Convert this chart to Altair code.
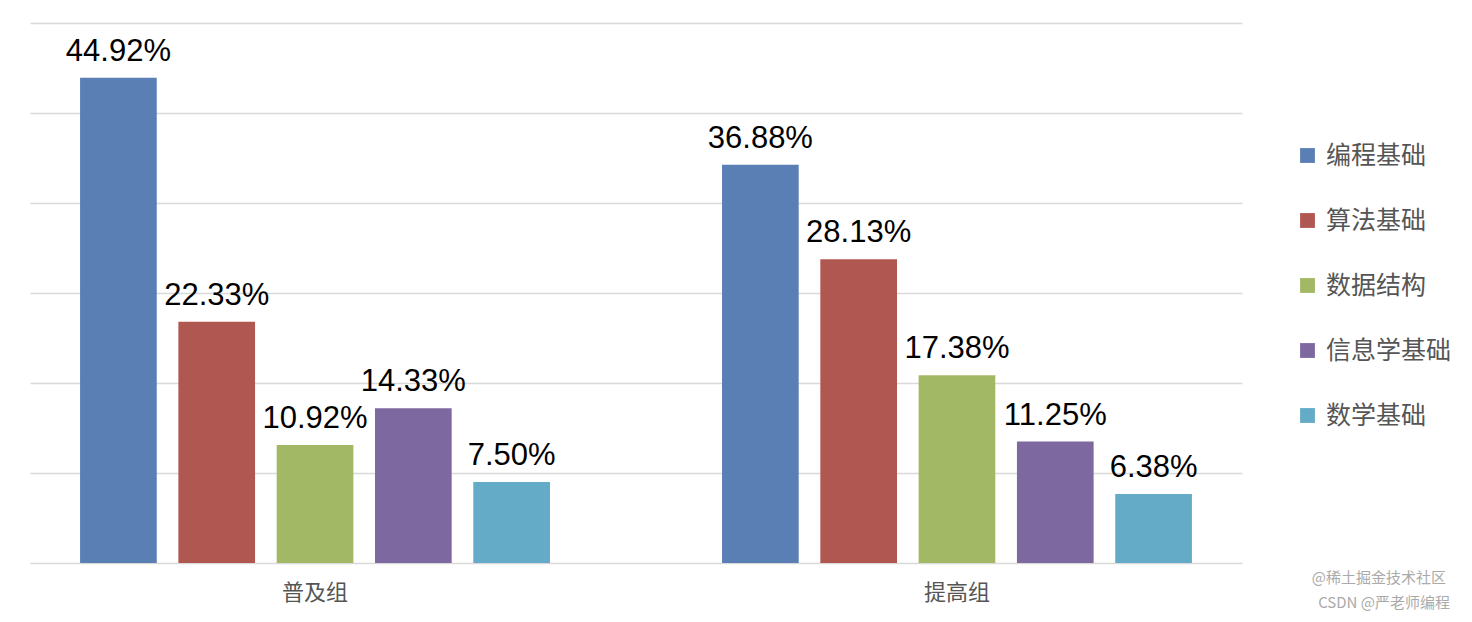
import altair as alt
import pandas as pd

groups = ["普及组", "提高组"]
subjects = ["编程基础", "算法基础", "数据结构", "信息学基础", "数学基础"]
puji = [44.92, 22.33, 10.92, 14.33, 7.50]
tigao = [36.88, 28.13, 17.38, 11.25, 6.38]
colors = ["#5A7FB5", "#B15751", "#A3B865", "#7E68A0", "#63ABC6"]
grid_values = [0, 8.333, 16.667, 25, 33.333, 41.667, 50]

rows = []
for g, vals in zip(groups, [puji, tigao]):
    for s, v in zip(subjects, vals):
        rows.append({"group": g, "subject": s, "pct": v, "label": f"{v:.2f}%"})
df = pd.DataFrame(rows)

base = alt.Chart(df).encode(
    x=alt.X(
        "group:N",
        sort=groups,
        title=None,
        scale=alt.Scale(paddingInner=0.268, paddingOuter=0.078),
        axis=alt.Axis(
            labelAngle=0,
            labelFont="Noto Sans CJK SC",
            labelFontSize=22,
            labelColor="#555555",
            labelPadding=19,
            ticks=False,
            domain=False,
        ),
    ),
    xOffset=alt.XOffset(
        "subject:N", sort=subjects,
        scale=alt.Scale(paddingInner=0.22, paddingOuter=0),
    ),
    y=alt.Y(
        "pct:Q",
        title=None,
        scale=alt.Scale(domain=[0, 50], nice=False),
        axis=alt.Axis(
            values=grid_values,
            labels=False,
            ticks=False,
            domain=False,
            grid=True,
            gridColor="#d9d9d9",
            gridWidth=1.5,
        ),
    ),
)

bars = base.mark_bar().encode(
    color=alt.Color(
        "subject:N",
        sort=subjects,
        scale=alt.Scale(domain=subjects, range=colors),
        legend=alt.Legend(
            title=None,
            orient="none",
            legendX=1265,
            legendY=120,
            symbolType="square",
            symbolSize=220,
            symbolStrokeWidth=0,
            labelFont="Noto Sans CJK SC",
            labelFontSize=25,
            labelColor="#555555",
            rowPadding=39,
            labelOffset=6,
        ),
    )
)

labels = base.mark_text(
    baseline="bottom", dy=-10, fontSize=31, font="Liberation Sans", color="#000000"
).encode(text="label:N")

wm1 = alt.Chart(pd.DataFrame({"t": ["@稀土掘金技术社区"]})).mark_text(
    font="Noto Sans CJK SC", fontSize=15, color="#aaaaaa", align="right"
).encode(text="t:N", x=alt.value(1416), y=alt.value(555))
wm2 = alt.Chart(pd.DataFrame({"t": ["CSDN @严老师编程"]})).mark_text(
    font="Noto Sans CJK SC", fontSize=15, color="#aaaaaa", align="right"
).encode(text="t:N", x=alt.value(1420), y=alt.value(580))

chart = (
    alt.layer(bars, labels, wm1, wm2)
    .properties(
        width=1212, height=540, background="white",
        padding={"left": 22, "top": 15, "right": 5, "bottom": 5},
    )
    .configure_view(strokeWidth=0)
)

chart.save("out.html", embed_options={"renderer": "svg", "actions": False})
